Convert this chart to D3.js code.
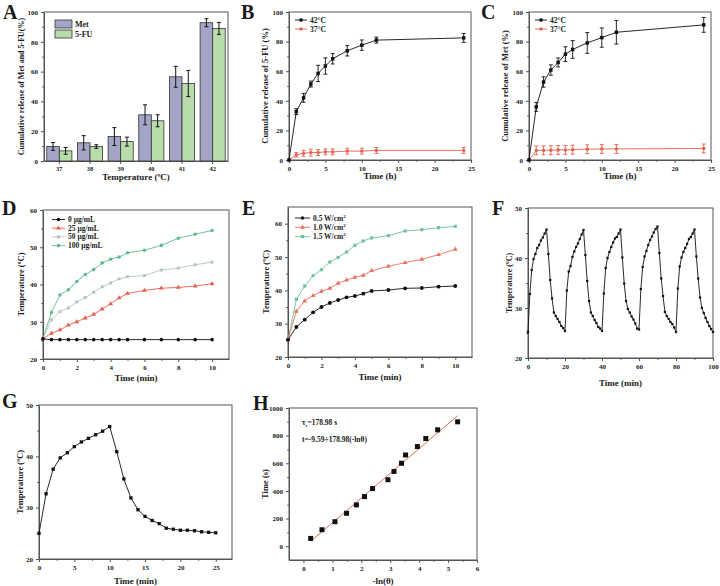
<!DOCTYPE html>
<html><head><meta charset="utf-8">
<script src="https://cdn.jsdelivr.net/npm/d3@7"></script>
<style>
body{margin:0;background:#fff}
svg{display:block}
text{font-family:"Liberation Serif","Times New Roman",serif;font-weight:bold;fill:#1a1a1a}
</style></head><body>
<script>
// ---------- DATA ----------
// A
const aCats=["37","38","39","40","41","42"];
const aMet=[9.8,12.2,16.4,31,56.5,92.8];
const aMetErr=[2.6,4.8,6,6.7,7,2.7];
const aFU=[6.8,9.7,13,27,52,89];
const aFUErr=[2.3,1.2,3,4,8.8,4];
// B (5-FU release)
const bTime=[0,1,2,3,4,5,6,8,10,12,24];
const b42=[0,32.7,42,51.3,58.5,63.5,68.4,73.8,77.6,81,82.5];
const b42Err=[0,2,3,2,5.5,5.5,3.5,3.5,3.5,2,3];
const b37=[0,3.5,4.5,5,5,5.5,5.5,6,6,6.5,6.5];
const b37Err=[0,1.5,2,2.3,2,2,2,2,2,2,2];
// C (Met release)
const c42=[0,35.9,52.7,60.8,65.9,71.5,74.7,79.1,82.7,86.3,91.3];
const c42Err=[0,3,3.5,3.5,3,5,6,7,6.5,8,5];
const c37=[0,6.5,6.5,6.6,6.8,6.8,7,7.3,7.5,7.5,7.8];
const c37Err=[0,3,3,3,3,3,3,3,3,3,3];
// D (concentration)
const dTime=[0,0.5,1,1.5,2,2.5,3,3.5,4,4.5,5,6,7,8,9,10];
const d0=[25.4,25.2,25.2,25.2,25.2,25.2,25.2,25.2,25.2,25.2,25.2,25.2,25.2,25.2,25.2,25.2];
const d25=[25.5,26.9,27.8,29.1,30,31,32,33.4,34.8,36.4,37.6,38.4,39,39.2,39.6,40.2];
const d50=[25.5,30.5,32.7,33.7,35.3,36.5,37.9,39.4,40.4,41.5,42.1,42.4,43.9,44.4,45.3,46];
const d100=[25.5,32.5,37.2,38.6,40.8,42.7,44,45.8,46.8,47.4,48.5,49.2,50.5,52.4,53.5,54.5];
const dLabels=["0 μg/mL","25 μg/mL","50 μg/mL","100 μg/mL"];
// E (power density)
const eTime=[0,0.5,1,1.5,2,2.5,3,3.5,4,4.5,5,6,7,8,9,10];
const e05=[25.2,29,31.2,33.4,35,36.2,37.1,37.9,38.3,39,39.8,40.1,40.6,40.7,41.1,41.3];
const e10=[25.2,33.7,36.8,38.4,39.7,40.6,42.1,43.1,43.9,44.5,45.9,47.2,48.3,49.3,50.7,52.3];
const e15=[25.2,37.3,41.3,44.4,46.2,48.5,49.9,51.5,53.5,54.8,55.7,56.4,57.8,58.2,58.8,59.2];
const eLabels=["0.5 W/cm","1.0 W/cm","1.5 W/cm"];
// F (cycles, one reading per minute 0..100)
const fTemp=[25.2,32.8,37.6,39.8,40.8,42.0,42.6,43.5,44.1,44.9,45.7,40.8,35.6,31.9,29.1,28.4,27.8,27.2,26.4,26.0,25.4,
33.5,37.3,38.4,40.2,41.3,42.2,42.9,43.8,44.7,45.6,40.6,35.4,31.4,29.1,28.4,27.6,27.0,26.2,25.9,25.4,
32.9,38.0,40.0,41.2,42.2,43.1,43.9,44.2,44.9,45.7,40.1,34.9,31.4,29.8,29.1,28.3,27.7,26.9,25.9,25.7,
33.8,38.2,40.3,41.4,42.6,43.6,44.3,45.1,45.8,46.3,41.0,35.9,32.4,29.2,28.4,27.8,27.2,26.8,26.1,25.2,
33.9,38.3,40.1,41.2,42.0,42.8,43.8,44.2,44.9,45.7,40.3,35.9,32.1,30.0,29.0,28.0,27.2,26.4,25.8,25.2];
// G (single cycle)
const gTime=[0,1,2,3,4,5,6,7,8,9,10,11,12,13,14,15,16,17,18,19,20,21,22,23,24,25];
const gTemp=[25,32.7,37.5,39.7,40.7,41.9,42.8,43.5,44.2,44.9,45.8,40.9,35.6,31.9,29.6,28.3,27.5,26.9,26,25.8,25.6,25.6,25.5,25.3,25.2,25.1];
// H (linear fit)
const hX=[0.25,0.64,1.09,1.49,1.83,2.11,2.39,2.92,3.13,3.39,3.53,3.94,4.23,4.64,5.33];
const hY=[56,119,177,238,299,359,417,481,541,600,660,721,779,842,900];
const hFit={intercept:-9.59,slope:178.98,from:0.25,to:5.33};

// ---------- DRAWING ----------
const svg=d3.select("body").append("svg").attr("width",720).attr("height",586);
const AX="#555";
const RED="#e4604e", GREEN="#5fba8c", LGREY="#b5c6be";

function styleAxis(sel,fs){
  sel.select(".domain").attr("stroke",AX);
  sel.selectAll(".tick line").attr("stroke",AX);
  sel.selectAll(".tick text").attr("font-size",fs||7).attr("fill","#222");
}
function axes(x,y,o){
  const g=svg.append("g");
  const [x0,x1]=x.range(); const [yb,yt]=y.range();
  if(o.xm) g.append("g").attr("transform",`translate(0,${yb})`)
    .call(d3.axisBottom(x).tickValues(o.xm).tickSize(1.8).tickFormat(""))
    .call(s=>{s.select(".domain").remove();s.selectAll("line").attr("stroke",AX);});
  if(o.ym) g.append("g").attr("transform",`translate(${x0},0)`)
    .call(d3.axisLeft(y).tickValues(o.ym).tickSize(1.8).tickFormat(""))
    .call(s=>{s.select(".domain").remove();s.selectAll("line").attr("stroke",AX);});
  const xa=d3.axisBottom(x).tickSize(3).tickSizeOuter(0).tickPadding(o.xPad||3);
  if(o.xt) xa.tickValues(o.xt);
  xa.tickFormat(o.xf||(d=>d));
  g.append("g").attr("transform",`translate(0,${yb})`).call(xa).call(s=>styleAxis(s,o.xFs));
  const ya=d3.axisLeft(y).tickValues(o.yt).tickSize(3).tickSizeOuter(0).tickPadding(3).tickFormat(d=>d);
  g.append("g").attr("transform",`translate(${x0},0)`).call(ya).call(s=>styleAxis(s,o.yFs));
  g.append("rect").attr("x",x0).attr("y",yt).attr("width",x1-x0).attr("height",yb-yt)
    .attr("fill","none").attr("stroke",AX).attr("stroke-width",1);
  g.append("text").attr("x",(x0+x1)/2+(o.xlDx||0)).attr("y",o.xlY).attr("text-anchor","middle")
    .attr("font-size",9).text(o.xl);
  g.append("text").attr("transform",`translate(${o.ylX},${(yb+yt)/2}) rotate(-90)`)
    .attr("text-anchor","middle").attr("font-size",o.ylFs||8.5).text(o.yl);
  svg.append("text").attr("x",o.px).attr("y",o.py).attr("font-size",20).text(o.letter);
  return g;
}
function series(g,x,y,xs,ys,col,shape,size,err){
  const pts=xs.map((t,i)=>[t,ys[i],err?err[i]:0]);
  g.append("path").datum(pts).attr("fill","none").attr("stroke",col).attr("stroke-width",0.9)
    .attr("d",d3.line().x(d=>x(d[0])).y(d=>y(d[1])));
  if(err){
    const eg=g.append("g").attr("stroke",col).attr("stroke-width",0.9);
    pts.filter(d=>d[2]>0).forEach(d=>{
      const cx=x(d[0]);
      eg.append("line").attr("x1",cx).attr("x2",cx).attr("y1",y(d[1]-d[2])).attr("y2",y(d[1]+d[2]));
      eg.append("line").attr("x1",cx-2).attr("x2",cx+2).attr("y1",y(d[1]-d[2])).attr("y2",y(d[1]-d[2]));
      eg.append("line").attr("x1",cx-2).attr("x2",cx+2).attr("y1",y(d[1]+d[2])).attr("y2",y(d[1]+d[2]));
    });
  }
  const sym=d3.symbol().type(shape).size(size);
  g.append("g").selectAll("path").data(pts).join("path")
    .attr("transform",d=>`translate(${x(d[0])},${y(d[1])})`).attr("d",sym).attr("fill",col);
}
function legend(g,x0,y0,dy,items,len){
  items.forEach((it,i)=>{
    const yy=y0+i*dy;
    g.append("line").attr("x1",x0).attr("x2",x0+len).attr("y1",yy).attr("y2",yy).attr("stroke",it.c).attr("stroke-width",0.9);
    g.append("path").attr("transform",`translate(${x0+len/2},${yy})`).attr("d",d3.symbol().type(it.s).size(it.z||10)).attr("fill",it.c);
    const t=g.append("text").attr("x",x0+len+3).attr("y",yy+2.5).attr("font-size",7.5).text(it.t);
    if(it.sup) t.append("tspan").attr("font-size",5).attr("dy",-3).text(it.sup);
  });
}

// ----- A -----
{
  const x=d3.scaleBand().domain(aCats).range([44,228]).paddingInner(0.18).paddingOuter(0.09);
  const y=d3.scaleLinear().domain([0,100]).range([161,12]);
  const g=axes(x,y,{yt:[0,20,40,60,80,100],ym:[10,30,50,70,90],xl:"Temperature (ºC)",xlY:180,xPad:2,xFs:6.5,
    yl:"Cumulative release of Met and 5-FU(%)",ylX:24,ylFs:8,px:3,py:19,letter:"A"});
  const sub=d3.scaleBand().domain(["Met","FU"]).range([0,x.bandwidth()]);
  const sets=[["Met",aMet,aMetErr,"#a4a5c6"],["FU",aFU,aFUErr,"#b8dcaa"]];
  sets.forEach(([k,vals,errs,col])=>{
    aCats.forEach((c,i)=>{
      const bx=x(c)+sub(k), bw=sub.bandwidth();
      g.append("rect").attr("x",bx).attr("y",y(vals[i])).attr("width",bw).attr("height",y(0)-y(vals[i]))
        .attr("fill",col).attr("stroke","#333").attr("stroke-width",0.8);
      const cx=bx+bw/2;
      g.append("line").attr("x1",cx).attr("x2",cx).attr("y1",y(vals[i]-errs[i])).attr("y2",y(vals[i]+errs[i])).attr("stroke","#111");
      [vals[i]-errs[i],vals[i]+errs[i]].forEach(v=>g.append("line").attr("x1",cx-2).attr("x2",cx+2).attr("y1",y(v)).attr("y2",y(v)).attr("stroke","#111"));
    });
  });
  [["Met","#a4a5c6",20],["5-FU","#b8dcaa",30]].forEach(([t,c,yy])=>{
    g.append("rect").attr("x",55).attr("y",yy).attr("width",17).attr("height",8).attr("fill",c).attr("stroke","#333").attr("stroke-width",0.8);
    g.append("text").attr("x",75).attr("y",yy+7).attr("font-size",8).text(t);
  });
}

// ----- B & C -----
function releasePanel(x0,x1,letter,px,yl,d42,e42,d37,e37){
  const x=d3.scaleLinear().domain([0,25]).range([x0,x1]);
  const y=d3.scaleLinear().domain([0,100]).range([160,12]);
  const g=axes(x,y,{xt:[0,5,10,15,20,25],xm:[2.5,7.5,12.5,17.5,22.5],yt:[0,20,40,60,80,100],ym:[10,30,50,70,90],
    xl:"Time (h)",xlY:179,yl:yl,ylX:x0-21,px:px,py:19,letter:letter});
  series(g,x,y,bTime,d37,RED,d3.symbolCircle,9,e37);
  series(g,x,y,bTime,d42,"#111",d3.symbolSquare,12,e42);
  legend(g,x0+6,20,9,[{t:"42°C",c:"#111",s:d3.symbolSquare,z:10},{t:"37°C",c:RED,s:d3.symbolCircle,z:9}],12);
}
releasePanel(289,471,"B",241,"Cumulative release of 5-FU (%)",b42,b42Err,b37,b37Err);
releasePanel(529,711,"C",481,"Cumulative release of Met (%)",c42,c42Err,c37,c37Err);

// ----- D -----
{
  const x=d3.scaleLinear().domain([0,11]).range([43,229]);
  const y=d3.scaleLinear().domain([20,60]).range([359,210]);
  const g=axes(x,y,{xt:[0,2,4,6,8,10],xm:[1,3,5,7,9],yt:[20,30,40,50,60],ym:[25,35,45,55],
    xl:"Time (min)",xlY:381,yl:"Temperature (ºC)",ylX:24,px:2,py:215,letter:"D"});
  series(g,x,y,dTime,d100,GREEN,d3.symbolCircle,10);
  series(g,x,y,dTime,d50,LGREY,d3.symbolSquare,9);
  series(g,x,y,dTime,d25,RED,d3.symbolTriangle,10);
  series(g,x,y,dTime,d0,"#111",d3.symbolCircle,10);
  legend(g,52,219.5,8.7,[{t:dLabels[0],c:"#111",s:d3.symbolCircle},{t:dLabels[1],c:RED,s:d3.symbolTriangle},
    {t:dLabels[2],c:LGREY,s:d3.symbolSquare},{t:dLabels[3],c:GREEN,s:d3.symbolCircle}],13);
}

// ----- E -----
{
  const x=d3.scaleLinear().domain([0,11]).range([288,472]);
  const y=d3.scaleLinear().domain([20,65]).range([357,207]);
  const g=axes(x,y,{xt:[0,2,4,6,8,10],xm:[1,3,5,7,9],yt:[20,30,40,50,60],ym:[25,35,45,55],
    xl:"Time (min)",xlY:380,yl:"Temperature (ºC)",ylX:269,px:242,py:215,letter:"E"});
  series(g,x,y,eTime,e15,"#6cc49c",d3.symbolSquare,10);
  series(g,x,y,eTime,e10,"#e8705e",d3.symbolTriangle,10);
  series(g,x,y,eTime,e05,"#111",d3.symbolCircle,12);
  legend(g,295,218,9.3,[{t:eLabels[0],sup:"2",c:"#111",s:d3.symbolCircle},{t:eLabels[1],sup:"2",c:"#e8705e",s:d3.symbolTriangle},
    {t:eLabels[2],sup:"2",c:"#6cc49c",s:d3.symbolSquare}],15);
}

// ----- F -----
{
  const x=d3.scaleLinear().domain([0,100]).range([528,713]);
  const y=d3.scaleLinear().domain([20,50]).range([358,208]);
  const g=axes(x,y,{xt:[0,20,40,60,80,100],xm:[10,30,50,70,90],yt:[20,30,40,50],ym:[25,35,45],
    xl:"Time (min)",xlY:386,yl:"Temperature (ºC)",ylX:512,ylFs:8,px:492,py:215,letter:"F"});
  series(g,x,y,fTemp.map((v,i)=>i),fTemp,"#111",d3.symbolSquare,5);
}

// ----- G -----
{
  const x=d3.scaleLinear().domain([0,27.3]).range([39,232]);
  const y=d3.scaleLinear().domain([20,50]).range([559,405]);
  const g=axes(x,y,{xt:[0,5,10,15,20,25],xm:[2.5,7.5,12.5,17.5,22.5],yt:[20,30,40,50],ym:[25,35,45],
    xl:"Time (min)",xlY:584,yl:"Temperature (ºC)",ylX:23,px:2,py:408,letter:"G"});
  series(g,x,y,gTime,gTemp,"#111",d3.symbolSquare,11);
}

// ----- H -----
{
  const x=d3.scaleLinear().domain([-0.5,6]).range([289,477]);
  const y=d3.scaleLinear().domain([-100,1000]).range([560,408]);
  const g=axes(x,y,{xt:[0,1,2,3,4,5,6],xm:[0.5,1.5,2.5,3.5,4.5,5.5],yt:[0,200,400,600,800,1000],ym:[100,300,500,700,900],
    xl:"-ln(θ)",xlY:584,yl:"Time (s)",ylX:268,px:253,py:410,letter:"H"});
  g.append("line").attr("x1",x(hFit.from)).attr("y1",y(hFit.intercept+hFit.slope*hFit.from))
    .attr("x2",x(hFit.to)).attr("y2",y(hFit.intercept+hFit.slope*hFit.to)).attr("stroke","#d9725e").attr("stroke-width",1);
  g.append("g").selectAll("rect").data(hX.map((v,i)=>[v,hY[i]])).join("rect")
    .attr("x",d=>x(d[0])-2.5).attr("y",d=>y(d[1])-2.5).attr("width",5).attr("height",5).attr("fill","#111");
  const t1=g.append("text").attr("x",302).attr("y",425).attr("font-size",7.5).attr("font-weight","normal");
  t1.append("tspan").text("τ");
  t1.append("tspan").attr("font-size",5).attr("dy",2).text("s");
  t1.append("tspan").attr("dy",-2).text("=178.98 s");
  g.append("text").attr("x",302).attr("y",442).attr("font-size",7.5).attr("font-weight","normal").text("t=-9.59+178.98(-lnθ)");
}
</script></body></html>
